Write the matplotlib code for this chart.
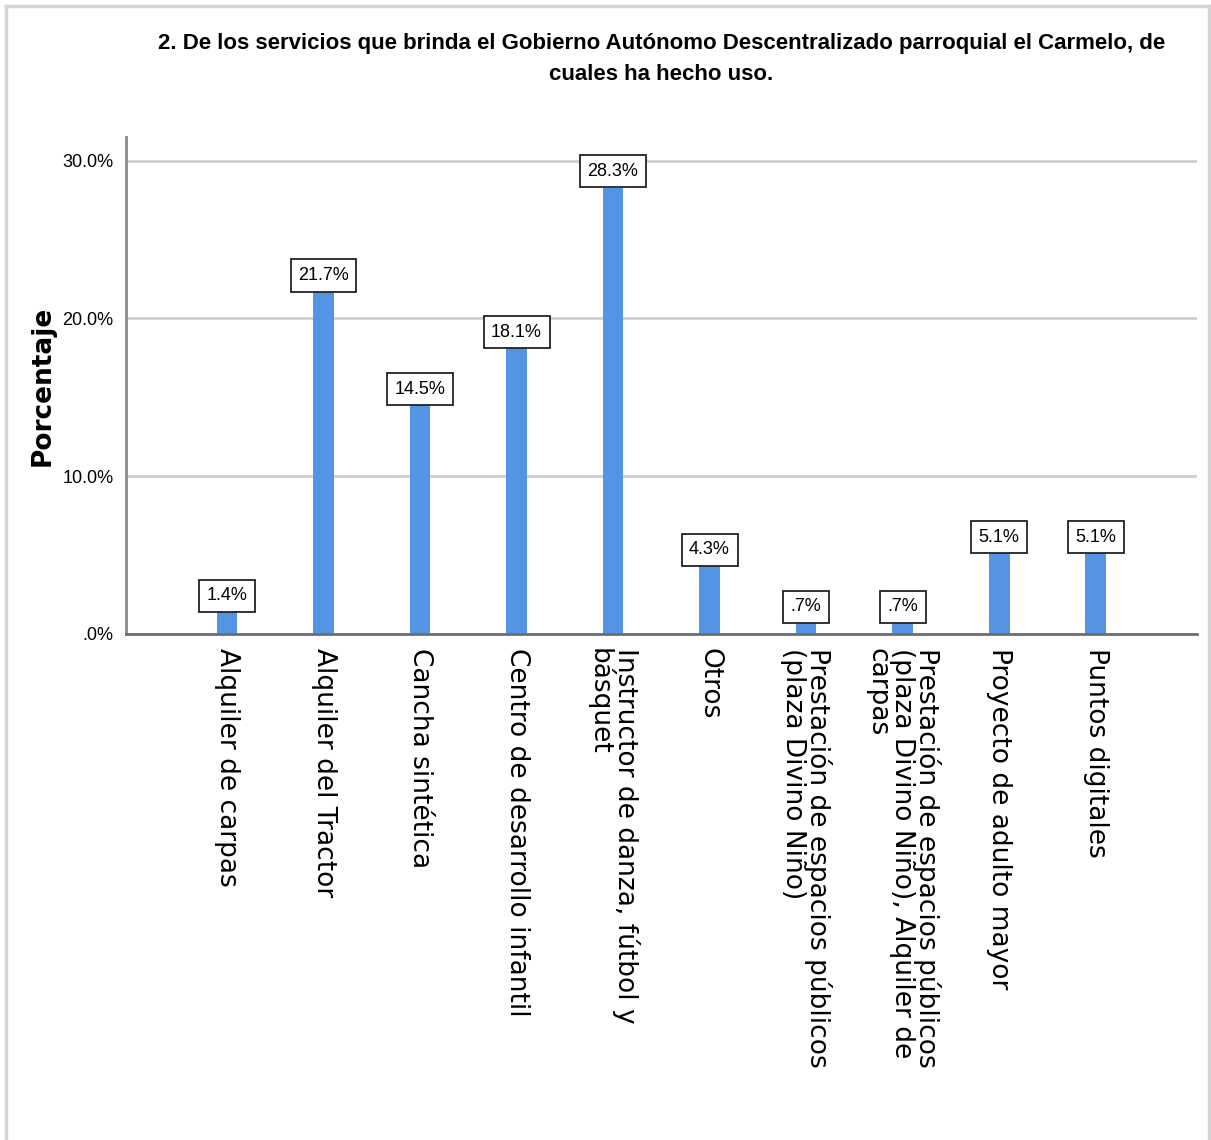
import matplotlib.pyplot as plt
from matplotlib import font_manager
from matplotlib.lines import Line2D
from matplotlib.ticker import FuncFormatter

servicios = [
    "Alquiler de carpas",
    "Alquiler del Tractor",
    "Cancha sintética",
    "Centro de desarrollo infantil",
    "Instructor de danza, fútbol y\nbásquet",
    "Otros",
    "Prestación de espacios públicos\n(plaza Divino Niño)",
    "Prestación de espacios públicos\n(plaza Divino Niño), Alquiler de\ncarpas",
    "Proyecto de adulto mayor",
    "Puntos digitales",
]
porcentajes = [1.4, 21.7, 14.5, 18.1, 28.3, 4.3, 0.7, 0.7, 5.1, 5.1]
yticks = [0, 10, 20, 30]

installed = {f.name for f in font_manager.fontManager.ttflist}
narrow = "Liberation Sans Narrow" if "Liberation Sans Narrow" in installed else "Liberation Sans"


def spss_pct(v, pos=None):
    # SPSS drops the leading zero: .7%, .0%
    s = f"{v:.1f}%"
    return s[1:] if s.startswith("0") else s


fig = plt.figure(figsize=(12.11, 11.40), dpi=100)
ax = fig.add_axes([0.104, 0.4439, 0.8844, 0.4359])

x = range(len(servicios))
ax.bar(x, porcentajes, width=0.216, color="#5394e3", zorder=3)

for i, v in enumerate(porcentajes):
    ax.annotate(spss_pct(v), (i, v), xytext=(0, 5.5), textcoords="offset points",
                ha="center", va="bottom", fontsize=13, family=narrow, zorder=5,
                bbox=dict(boxstyle="square,pad=0.42", fc="white", ec="#222222", lw=1.3))

ax.set_xlim(-1.047, 10.05)
ax.set_ylim(0, 31.5)
ax.set_yticks(yticks)
ax.yaxis.set_major_formatter(FuncFormatter(spss_pct))
ax.grid(axis="y", color="#cfcfcf", lw=2, zorder=0)
ax.tick_params(axis="y", length=0, pad=9, labelsize=13)
for lab in ax.get_yticklabels():
    lab.set_family(narrow)

ax.set_xticks(list(x))
ax.set_xticklabels(servicios, rotation=270, ha="center", va="top", ma="left",
                   fontsize=19, linespacing=0.92, family="DejaVu Sans")
ax.tick_params(axis="x", length=0, pad=10)

for side in ["top", "right"]:
    ax.spines[side].set_visible(False)
ax.spines["left"].set_color("#8a8a8a")
ax.spines["left"].set_linewidth(2)
ax.spines["bottom"].set_color("#6e6e6e")
ax.spines["bottom"].set_linewidth(2)
ax.spines["bottom"].set_zorder(4)

ax.set_ylabel("Porcentaje", fontsize=19, fontweight="bold", family="DejaVu Sans")
ax.yaxis.set_label_coords(-0.066, 0.5)

fig.text(0.546, 0.9485,
         "2. De los servicios que brinda el Gobierno Autónomo Descentralizado parroquial el Carmelo, de\ncuales ha hecho uso.",
         ha="center", va="center", ma="center", fontsize=16, fontweight="bold",
         family=narrow, linespacing=1.6)

# light frame around the chart (left, top, right)
frame = dict(color="#d4d4d4", lw=2.5, transform=fig.transFigure)
fig.add_artist(Line2D([0.005, 0.005], [0, 0.995], **frame))
fig.add_artist(Line2D([0.005, 0.998], [0.995, 0.995], **frame))
fig.add_artist(Line2D([0.998, 0.998], [0, 0.995], **frame))

fig.savefig("out.png", dpi=100)
